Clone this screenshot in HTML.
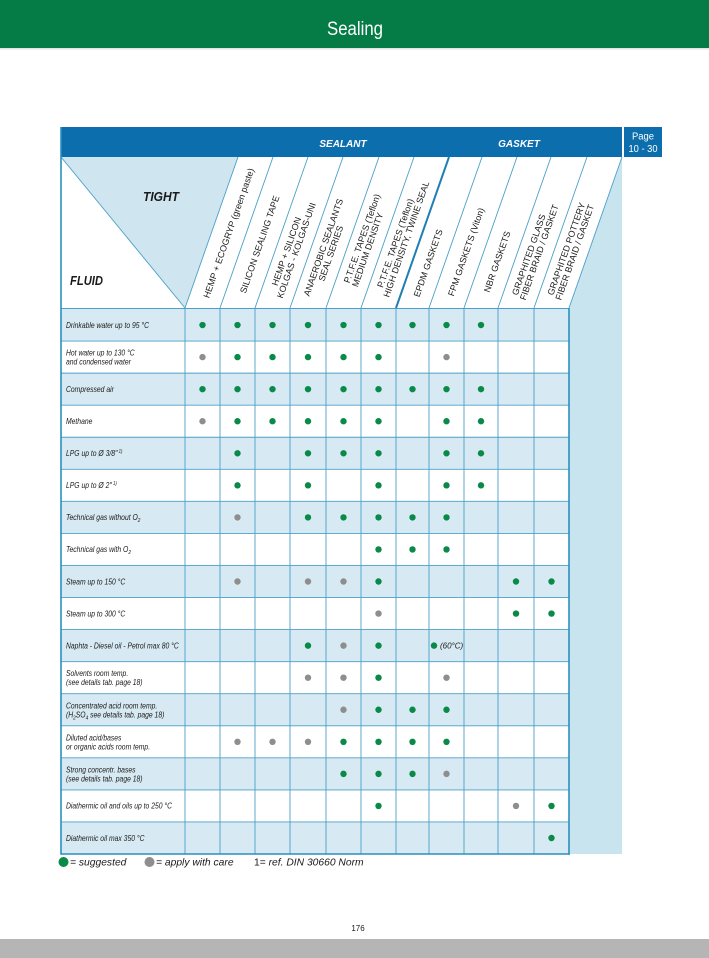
<!DOCTYPE html>
<html><head><meta charset="utf-8"><style>html,body{margin:0;padding:0;background:#fff}svg{display:block}</style></head>
<body>
<svg width="709" height="958" viewBox="0 0 709 958" xmlns="http://www.w3.org/2000/svg" font-family="'Liberation Sans', Arial, sans-serif">
<rect x="0" y="0" width="709" height="958" fill="#ffffff"/>
<!-- top green header -->
<rect x="0" y="0" width="709" height="48" fill="#057b46"/>
<rect x="0" y="48" width="709" height="1.5" fill="#e4e4e4"/>
<text x="355" y="35" font-size="19" fill="#ffffff" text-anchor="middle" textLength="56" lengthAdjust="spacingAndGlyphs">Sealing</text>

<!-- row backgrounds -->
<g fill="#d7e9f2">
<rect x="61" y="309" width="508" height="32.06"/>
<rect x="61" y="373.12" width="508" height="32.06"/>
<rect x="61" y="437.24" width="508" height="32.06"/>
<rect x="61" y="501.36" width="508" height="32.06"/>
<rect x="61" y="565.48" width="508" height="32.06"/>
<rect x="61" y="629.60" width="508" height="32.06"/>
<rect x="61" y="693.72" width="508" height="32.06"/>
<rect x="61" y="757.84" width="508" height="32.06"/>
<rect x="61" y="821.96" width="508" height="32.06"/>
</g>

<!-- header light areas -->
<polygon points="61,157 238,157 185,308" fill="#cfe5f0"/>
<polygon points="622,157 622,854 569,854 569,308" fill="#c7e4ef"/>

<!-- blue bar -->
<rect x="61" y="127" width="561" height="30" fill="#0d6eae"/>
<text x="343" y="147" font-size="10" font-weight="bold" font-style="italic" fill="#ffffff" text-anchor="middle">SEALANT</text>
<text x="519" y="147" font-size="10" font-weight="bold" font-style="italic" fill="#ffffff" text-anchor="middle">GASKET</text>
<rect x="624" y="127" width="38" height="30" fill="#0d6eae"/>
<text x="643" y="139.5" font-size="10" fill="#ffffff" text-anchor="middle" textLength="22" lengthAdjust="spacingAndGlyphs">Page</text>
<text x="643" y="152" font-size="10" fill="#ffffff" text-anchor="middle" textLength="29" lengthAdjust="spacingAndGlyphs">10 - 30</text>

<!-- grid lines -->
<g stroke="#4aa0c8" stroke-width="0.9" fill="none">
<line x1="61" y1="341.06" x2="569" y2="341.06"/>
<line x1="61" y1="373.12" x2="569" y2="373.12"/>
<line x1="61" y1="405.18" x2="569" y2="405.18"/>
<line x1="61" y1="437.24" x2="569" y2="437.24"/>
<line x1="61" y1="469.30" x2="569" y2="469.30"/>
<line x1="61" y1="501.36" x2="569" y2="501.36"/>
<line x1="61" y1="533.42" x2="569" y2="533.42"/>
<line x1="61" y1="565.48" x2="569" y2="565.48"/>
<line x1="61" y1="597.54" x2="569" y2="597.54"/>
<line x1="61" y1="629.60" x2="569" y2="629.60"/>
<line x1="61" y1="661.66" x2="569" y2="661.66"/>
<line x1="61" y1="693.72" x2="569" y2="693.72"/>
<line x1="61" y1="725.78" x2="569" y2="725.78"/>
<line x1="61" y1="757.84" x2="569" y2="757.84"/>
<line x1="61" y1="789.90" x2="569" y2="789.90"/>
<line x1="61" y1="821.96" x2="569" y2="821.96"/>
<line x1="61" y1="308.5" x2="569" y2="308.5"/>
<line x1="185" y1="308" x2="185" y2="854"/>
<line x1="220" y1="308" x2="220" y2="854"/>
<line x1="255" y1="308" x2="255" y2="854"/>
<line x1="290" y1="308" x2="290" y2="854"/>
<line x1="326" y1="308" x2="326" y2="854"/>
<line x1="361" y1="308" x2="361" y2="854"/>
<line x1="396" y1="308" x2="396" y2="854"/>
<line x1="429" y1="308" x2="429" y2="854"/>
<line x1="464" y1="308" x2="464" y2="854"/>
<line x1="498" y1="308" x2="498" y2="854"/>
<line x1="534" y1="308" x2="534" y2="854"/>
<!-- slanted header lines -->
<line x1="185" y1="308" x2="238" y2="157"/>
<line x1="220" y1="308" x2="273" y2="157"/>
<line x1="255" y1="308" x2="308" y2="157"/>
<line x1="290" y1="308" x2="343" y2="157"/>
<line x1="326" y1="308" x2="379" y2="157"/>
<line x1="361" y1="308" x2="414" y2="157"/>
<line x1="429" y1="308" x2="482" y2="157"/>
<line x1="464" y1="308" x2="517" y2="157"/>
<line x1="498" y1="308" x2="551" y2="157"/>
<line x1="534" y1="308" x2="587" y2="157"/>
<line x1="569" y1="308" x2="622" y2="157"/>
<line x1="61" y1="157" x2="185" y2="308"/>
</g>
<line x1="396" y1="308" x2="449" y2="157" stroke="#1f7fb5" stroke-width="2"/>
<!-- borders -->
<g stroke="#2b8fc0" stroke-width="1.6" fill="none">
<line x1="61" y1="127" x2="61" y2="854.8"/>
<line x1="61" y1="854" x2="569.8" y2="854"/>
<line x1="569" y1="308" x2="569" y2="854.8"/>
</g>

<!-- TIGHT / FLUID -->
<text x="143" y="201" font-size="12.5" font-weight="bold" font-style="italic" fill="#1a1a1a" textLength="36" lengthAdjust="spacingAndGlyphs">TIGHT</text>
<text x="70" y="285" font-size="12.5" font-weight="bold" font-style="italic" fill="#1a1a1a" textLength="33" lengthAdjust="spacingAndGlyphs">FLUID</text>

<!-- column headers -->
<g font-size="9" fill="#1a1a1a">
<g transform="translate(202.5,308) rotate(-70.66)"><text x="11" y="3">HEMP + ECOGRYP (green paste)</text></g>
<g transform="translate(237.5,308) rotate(-70.66)"><text x="16" y="3">SILICON SEALING TAPE</text></g>
<g transform="translate(272.5,308) rotate(-70.66)"><text x="22" y="-2.5">HEMP + SILICON</text><text x="12" y="6.5">KOLGAS - KOLGAS-UNI</text></g>
<g transform="translate(308,308) rotate(-70.66)"><text x="11" y="-2.5">ANAEROBIC SEALANTS</text><text x="30" y="6.5">SEAL SERIES</text></g>
<g transform="translate(343.5,308) rotate(-70.66)"><text x="25" y="-2.5">P.T.F.E. TAPES (Teflon)</text><text x="24" y="6.5">MEDIUM DENSITY</text></g>
<g transform="translate(378.5,308) rotate(-70.66)"><text x="20" y="-2.5">P.T.F.E. TAPES (Teflon)</text><text x="13" y="6.5">HIGH DENSITY, TWINE SEAL</text></g>
<g transform="translate(412.5,308) rotate(-70.66)"><text x="12" y="3">EPDM GASKETS</text></g>
<g transform="translate(446.5,308) rotate(-70.66)"><text x="13" y="3">FPM GASKETS (Viton)</text></g>
<g transform="translate(481,308) rotate(-70.66)"><text x="17" y="3">NBR GASKETS</text></g>
<g transform="translate(516,308) rotate(-70.66)"><text x="12" y="-2.5">GRAPHITED GLASS</text><text x="10" y="6.5">FIBER BRAID / GASKET</text></g>
<g transform="translate(551.5,308) rotate(-70.66)"><text x="12" y="-2.5">GRAPHITED POTTERY</text><text x="10" y="6.5">FIBER BRAID / GASKET</text></g>
</g>

<!-- row labels -->
<g transform="translate(66,0) scale(0.85,1)" font-size="8" font-style="italic" fill="#1a1a1a">
<text x="0" y="327.8">Drinkable water up to  95 °C</text>
<text x="0" y="355.6">Hot water up to 130 °C</text>
<text x="0" y="364.6">and condensed water</text>
<text x="0" y="392">Compressed air</text>
<text x="0" y="424">Methane</text>
<text x="0" y="456">LPG up to Ø 3/8"<tspan font-size="5" dy="-3"> 1)</tspan></text>
<text x="0" y="488.1">LPG up to Ø 2"<tspan font-size="5" dy="-3"> 1)</tspan></text>
<text x="0" y="520.2">Technical gas without O<tspan font-size="5.5" dy="2">2</tspan></text>
<text x="0" y="552.2">Technical gas with O<tspan font-size="5.5" dy="2">2</tspan></text>
<text x="0" y="584.3">Steam up to 150 °C</text>
<text x="0" y="616.4">Steam up to 300 °C</text>
<text x="0" y="648.4">Naphta - Diesel oil - Petrol max 80 °C</text>
<text x="0" y="676.2">Solvents room temp.</text>
<text x="0" y="685.2">(see details tab. page 18)</text>
<text x="0" y="708.3">Concentrated acid room temp.</text>
<text x="0" y="717.3">(H<tspan font-size="5.5" dy="2">2</tspan><tspan dy="-2">SO</tspan><tspan font-size="5.5" dy="2">4</tspan><tspan dy="-2"> see details tab. page 18)</tspan></text>
<text x="0" y="740.3">Diluted acid/bases</text>
<text x="0" y="749.3">or organic acids room temp.</text>
<text x="0" y="772.4">Strong concentr. bases</text>
<text x="0" y="781.4">(see details tab. page 18)</text>
<text x="0" y="808.7">Diathermic oil and oils up to 250 °C</text>
<text x="0" y="840.8">Diathermic oil max 350 °C</text>
</g>

<!-- dots -->
<g fill="#0a8a48">
<circle cx="202.5" cy="325.03" r="3.2"/><circle cx="237.5" cy="325.03" r="3.2"/><circle cx="272.5" cy="325.03" r="3.2"/><circle cx="308" cy="325.03" r="3.2"/><circle cx="343.5" cy="325.03" r="3.2"/><circle cx="378.5" cy="325.03" r="3.2"/><circle cx="412.5" cy="325.03" r="3.2"/><circle cx="446.5" cy="325.03" r="3.2"/><circle cx="481" cy="325.03" r="3.2"/>
<circle cx="237.5" cy="357.09" r="3.2"/><circle cx="272.5" cy="357.09" r="3.2"/><circle cx="308" cy="357.09" r="3.2"/><circle cx="343.5" cy="357.09" r="3.2"/><circle cx="378.5" cy="357.09" r="3.2"/>
<circle cx="202.5" cy="389.15" r="3.2"/><circle cx="237.5" cy="389.15" r="3.2"/><circle cx="272.5" cy="389.15" r="3.2"/><circle cx="308" cy="389.15" r="3.2"/><circle cx="343.5" cy="389.15" r="3.2"/><circle cx="378.5" cy="389.15" r="3.2"/><circle cx="412.5" cy="389.15" r="3.2"/><circle cx="446.5" cy="389.15" r="3.2"/><circle cx="481" cy="389.15" r="3.2"/>
<circle cx="237.5" cy="421.21" r="3.2"/><circle cx="272.5" cy="421.21" r="3.2"/><circle cx="308" cy="421.21" r="3.2"/><circle cx="343.5" cy="421.21" r="3.2"/><circle cx="378.5" cy="421.21" r="3.2"/><circle cx="446.5" cy="421.21" r="3.2"/><circle cx="481" cy="421.21" r="3.2"/>
<circle cx="237.5" cy="453.27" r="3.2"/><circle cx="308" cy="453.27" r="3.2"/><circle cx="343.5" cy="453.27" r="3.2"/><circle cx="378.5" cy="453.27" r="3.2"/><circle cx="446.5" cy="453.27" r="3.2"/><circle cx="481" cy="453.27" r="3.2"/>
<circle cx="237.5" cy="485.33" r="3.2"/><circle cx="308" cy="485.33" r="3.2"/><circle cx="378.5" cy="485.33" r="3.2"/><circle cx="446.5" cy="485.33" r="3.2"/><circle cx="481" cy="485.33" r="3.2"/>
<circle cx="308" cy="517.39" r="3.2"/><circle cx="343.5" cy="517.39" r="3.2"/><circle cx="378.5" cy="517.39" r="3.2"/><circle cx="412.5" cy="517.39" r="3.2"/><circle cx="446.5" cy="517.39" r="3.2"/>
<circle cx="378.5" cy="549.45" r="3.2"/><circle cx="412.5" cy="549.45" r="3.2"/><circle cx="446.5" cy="549.45" r="3.2"/>
<circle cx="378.5" cy="581.51" r="3.2"/><circle cx="516" cy="581.51" r="3.2"/><circle cx="551.5" cy="581.51" r="3.2"/>
<circle cx="516" cy="613.57" r="3.2"/><circle cx="551.5" cy="613.57" r="3.2"/>
<circle cx="308" cy="645.63" r="3.2"/><circle cx="378.5" cy="645.63" r="3.2"/><circle cx="434" cy="645.63" r="3.2"/>
<circle cx="378.5" cy="677.69" r="3.2"/>
<circle cx="378.5" cy="709.75" r="3.2"/><circle cx="412.5" cy="709.75" r="3.2"/><circle cx="446.5" cy="709.75" r="3.2"/>
<circle cx="343.5" cy="741.81" r="3.2"/><circle cx="378.5" cy="741.81" r="3.2"/><circle cx="412.5" cy="741.81" r="3.2"/><circle cx="446.5" cy="741.81" r="3.2"/>
<circle cx="343.5" cy="773.87" r="3.2"/><circle cx="378.5" cy="773.87" r="3.2"/><circle cx="412.5" cy="773.87" r="3.2"/>
<circle cx="378.5" cy="805.93" r="3.2"/><circle cx="551.5" cy="805.93" r="3.2"/>
<circle cx="551.5" cy="837.99" r="3.2"/>
</g>
<g fill="#8e8e8e">
<circle cx="202.5" cy="357.09" r="3.2"/><circle cx="446.5" cy="357.09" r="3.2"/>
<circle cx="202.5" cy="421.21" r="3.2"/>
<circle cx="237.5" cy="517.39" r="3.2"/>
<circle cx="237.5" cy="581.51" r="3.2"/><circle cx="308" cy="581.51" r="3.2"/><circle cx="343.5" cy="581.51" r="3.2"/>
<circle cx="378.5" cy="613.57" r="3.2"/>
<circle cx="343.5" cy="645.63" r="3.2"/>
<circle cx="308" cy="677.69" r="3.2"/><circle cx="343.5" cy="677.69" r="3.2"/><circle cx="446.5" cy="677.69" r="3.2"/>
<circle cx="343.5" cy="709.75" r="3.2"/>
<circle cx="237.5" cy="741.81" r="3.2"/><circle cx="272.5" cy="741.81" r="3.2"/><circle cx="308" cy="741.81" r="3.2"/>
<circle cx="446.5" cy="773.87" r="3.2"/>
<circle cx="516" cy="805.93" r="3.2"/>
</g>
<text x="440" y="648.5" font-size="8" font-style="italic" fill="#1a1a1a">(60°C)</text>

<!-- legend -->
<circle cx="63.5" cy="862" r="5" fill="#0a8a48"/>
<text x="70" y="865.5" font-size="10.3" font-style="italic" fill="#1a1a1a">= suggested</text>
<circle cx="149.5" cy="862" r="5" fill="#8e8e8e"/>
<text x="156" y="865.5" font-size="10.3" font-style="italic" fill="#1a1a1a">= apply with care</text>
<text x="254" y="865.5" font-size="10.3" fill="#1a1a1a">1= <tspan font-style="italic">ref. DIN 30660 Norm</tspan></text>

<!-- footer -->
<text x="358" y="931" font-size="8" fill="#1a1a1a" text-anchor="middle">176</text>
<rect x="0" y="939" width="709" height="19" fill="#b5b5b5"/>
</svg>
</body></html>
